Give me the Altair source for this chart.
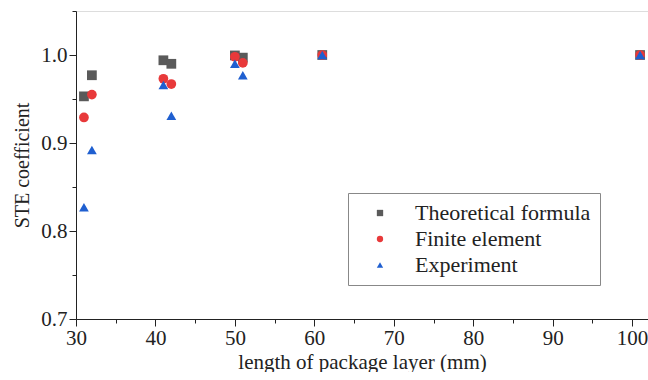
import altair as alt
import pandas as pd

lengths = [31, 32, 41, 42, 50, 51, 61, 101]
theoretical = [0.953, 0.977, 0.994, 0.990, 0.9995, 0.997, 1.000, 1.000]
finite = [0.929, 0.955, 0.973, 0.967, 0.998, 0.991, 1.000, 1.000]
experiment = [0.827, 0.892, 0.966, 0.931, 0.990, 0.977, 1.000, 1.000]

series_names = ["Theoretical formula", "Finite element", "Experiment"]
series_colors = ["#5a5a5a", "#e8393a", "#1f5fd0"]
series_shapes = ["square", "circle", "triangle-up"]

x_ticks = list(range(30, 105, 5))
y_ticks = [0.7, 0.75, 0.8, 0.85, 0.9, 0.95, 1.0, 1.05]

rows = []
for name, vals in zip(series_names, [theoretical, finite, experiment]):
    for x, y in zip(lengths, vals):
        rows.append({"length": x, "value": y, "series": name})
df = pd.DataFrame(rows)

FONT = "Liberation Serif"
INK = "#222"

chart = alt.Chart(df).mark_point(filled=True, opacity=1, size=95).encode(
    x=alt.X("length:Q",
            scale=alt.Scale(domain=[30, 102], nice=False, zero=False),
            axis=alt.Axis(title="length of package layer (mm)",
                          values=x_ticks,
                          labelExpr="datum.value % 10 === 0 ? datum.label : ''",
                          tickSize={"condition": {"test": "datum.value % 10 === 0", "value": 7}, "value": 4},
                          grid=False, domainColor=INK, tickColor=INK,
                          labelFont=FONT, labelFontSize=21, labelColor=INK,
                          titleFont=FONT, titleFontSize=21, titleFontWeight="normal",
                          titleColor=INK, labelPadding=1, titlePadding=3,
                          labelFlush=False)),
    y=alt.Y("value:Q",
            scale=alt.Scale(domain=[0.7, 1.05], nice=False, zero=False),
            axis=alt.Axis(title="STE coefficient",
                          values=y_ticks,
                          format=".1f",
                          labelExpr="round(datum.value*100) % 10 === 0 ? datum.label : ''",
                          tickSize={"condition": {"test": "round(datum.value*100) % 10 === 0", "value": 7}, "value": 4},
                          grid=False, domainColor=INK, tickColor=INK,
                          labelFont=FONT, labelFontSize=21, labelColor=INK,
                          titleFont=FONT, titleFontSize=20, titleFontWeight="normal",
                          titleColor=INK, labelPadding=2, titlePadding=8)),
    color=alt.Color("series:N",
                    scale=alt.Scale(domain=series_names, range=series_colors),
                    legend=alt.Legend(title=None, orient="none", legendX=272, legendY=182,
                                      labelFont=FONT, labelFontSize=22, labelColor=INK,
                                      labelLimit=400,
                                      symbolSize=40, rowPadding=4, padding=9,
                                      strokeColor="#888", labelOffset=24,
                                      symbolOffset=12)),
    shape=alt.Shape("series:N",
                    scale=alt.Scale(domain=series_names, range=series_shapes)),
).properties(
    width=572, height=308
).configure_view(stroke=None).configure(
    padding={"left": 12, "top": 10, "right": 0, "bottom": 0}
)

chart.save("out.html", embed_options={"renderer": "svg", "actions": False})
